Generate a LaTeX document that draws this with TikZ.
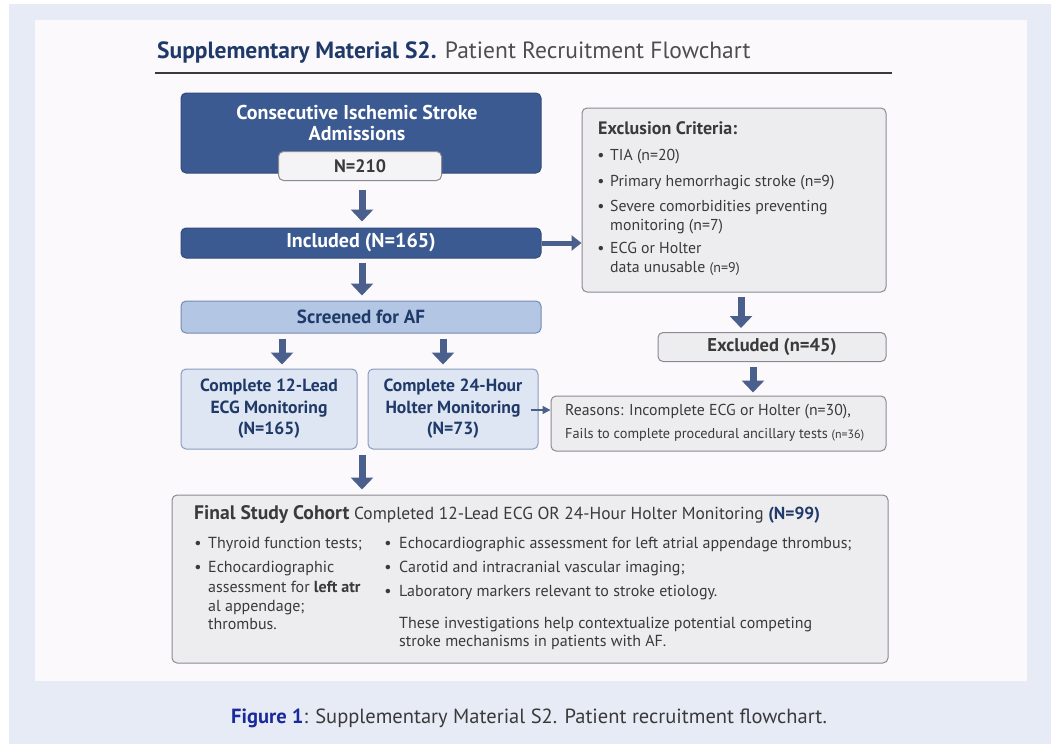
\documentclass[tikz,border=0pt]{standalone}
\usepackage{fontspec}
\setmainfont{PT Sans}
\usetikzlibrary{arrows.meta}
\definecolor{framec}{HTML}{E6EBF5}
\definecolor{panelc}{HTML}{FBF9FC}
\definecolor{navy}{HTML}{1F3A68}
\definecolor{darkboxc}{HTML}{3C5A92}
\definecolor{arrowc}{HTML}{4A5F8C}
\definecolor{lightbluec}{HTML}{B3C7E5}
\definecolor{palebluec}{HTML}{DEE6F3}
\definecolor{grayfill}{HTML}{EDEDF0}
\definecolor{grayline}{HTML}{8A8A90}
\definecolor{txtgray}{HTML}{3A3A3A}
\definecolor{figblue}{HTML}{1A2A9C}
\begin{document}
\begin{tikzpicture}[x=1pt,y=-1pt,
 box/.style={rounded corners=5pt, line width=1pt, inner sep=0pt},
 dbox/.style={box, fill=darkboxc, draw=darkboxc!85!black},
 lbox/.style={box, fill=lightbluec, draw=darkboxc!70},
 pbox/.style={box, fill=palebluec, draw=darkboxc!60},
 gbox/.style={box, fill=grayfill, draw=grayline},
 wtxt/.style={text=white, font=\fontsize{20}{21}\selectfont\bfseries, align=center, inner sep=0pt},
 ntxt/.style={text=navy, font=\fontsize{17.6}{21.5}\selectfont\bfseries, align=center, inner sep=0pt},
 gtxt/.style={text=txtgray, font=\fontsize{15.8}{19}\selectfont, anchor=base west, inner sep=0pt},
 ftxt/.style={text=txtgray, font=\fontsize{16}{19}\selectfont, anchor=base west, inner sep=0pt},
 fat/.style={arrowc, line width=7pt, -{Triangle[width=22pt,length=12pt]}},
 mid/.style={arrowc, line width=5pt, -{Triangle[width=15pt,length=10pt]}},
 slim/.style={arrowc, line width=1.5pt, -{Triangle[width=8pt,length=8pt]}}
]
\useasboundingbox (0,0) rectangle (1051,744);
\fill[framec] (9,4) rectangle (1051,744);
\fill[panelc] (35,20) rectangle (1027,681);

% title
\node[anchor=base west, inner sep=0pt, font=\fontsize{23.5}{26}\selectfont] (title) at (157,58)
  {\textcolor{navy}{\bfseries Supplementary Material S2.} \textcolor{txtgray!90}{Patient Recruitment Flowchart}};
\draw[txtgray, line width=1.6pt] (155,73) -- (892,73);

% left column
\node[dbox, minimum width=360pt, minimum height=80pt] (adm) at (361,133) {};
\node[wtxt] (admt) at (357,123) {Consecutive Ischemic Stroke\\Admissions};
\node[gbox, fill=grayfill!60!white, minimum width=163pt, minimum height=29pt, text=txtgray,
  font=\fontsize{18}{19}\selectfont\bfseries] (n210) at (360,166) {N=210};

\node[dbox, minimum width=360pt, minimum height=30pt, wtxt] (inc) at (361,243) {Included (N=165)};
\node[lbox, minimum width=360pt, minimum height=32pt, ntxt, font=\fontsize{19}{21}\selectfont\bfseries] (scr) at (361,317) {Screened for AF};
\node[pbox, minimum width=176pt, minimum height=80pt, ntxt] (ecg) at (269,409)
  {Complete 12-Lead\\ECG Monitoring\\(N=165)};
\node[pbox, minimum width=170pt, minimum height=80pt, ntxt] (hol) at (453,409)
  {Complete 24-Hour\\Holter Monitoring\\(N=73)};

% right column
\node[gbox, minimum width=304pt, minimum height=184pt] (excl) at (734,200) {};
\node[anchor=base west, inner sep=0pt, text=txtgray, font=\fontsize{18}{19}\selectfont\bfseries] (exclt) at (598,134) {Exclusion Criteria:};
\node[gtxt] (e1) at (610,160) {TIA (n=20)};
\node[gtxt] (e2) at (610,186) {Primary hemorrhagic stroke (n=9)};
\node[gtxt] (e3) at (610,211) {Severe comorbidities preventing};
\node[gtxt] (e3b) at (610,230) {monitoring (n=7)};
\node[gtxt] (e4) at (610,253) {ECG or Holter};
\node[gtxt] (e4b) at (610,272) {data unusable {\fontsize{14}{14}\selectfont(n=9)}};
\foreach \yy [count=\i] in {160,186,211,253}
  \node[gtxt, anchor=base] (eb\i) at (601,\yy) {•};

\node[gbox, minimum width=228pt, minimum height=29pt, text=txtgray,
  font=\fontsize{18.5}{19}\selectfont\bfseries] (exd) at (772,347) {Excluded (n=45)};
\node[gbox, minimum width=335pt, minimum height=55pt] (rsn) at (718.5,423.5) {};
\node[gtxt, font=\fontsize{15.8}{19}\selectfont] (r1) at (565,415) {Reasons: Incomplete ECG or Holter (n=30),};
\node[gtxt, font=\fontsize{14.3}{19}\selectfont] (r2) at (565,438) {Fails to complete procedural ancillary tests {\fontsize{12}{14}\selectfont(n=36)}};

% final cohort
\node[gbox, minimum width=716pt, minimum height=168pt] (fin) at (530,579) {};
\node[anchor=base west, inner sep=0pt, text=txtgray, font=\fontsize{17.4}{19}\selectfont] (fint) at (194,519)
  {{\fontsize{19.6}{19}\selectfont\bfseries Final Study Cohort} Completed 12-Lead ECG OR 24-Hour Holter Monitoring \textcolor{navy}{\bfseries(N=99)}};
\node[ftxt] (l1) at (208,548) {Thyroid function tests;};
\node[ftxt] (l2) at (208,572) {Echocardiographic};
\node[ftxt] (l2b) at (208,592) {assessment for \textbf{left atr}};
\node[ftxt] (l2c) at (208,611) {al appendage;};
\node[ftxt] (l2d) at (208,629) {thrombus.};
\node[ftxt] (r1b) at (399,548) {Echocardiographic assessment for left atrial appendage thrombus;};
\node[ftxt] (r2b) at (399,572) {Carotid and intracranial vascular imaging;};
\node[ftxt] (r3b) at (399,596) {Laboratory markers relevant to stroke etiology.};
\node[ftxt] (p1) at (399,628) {These investigations help contextualize potential competing};
\node[ftxt] (p2) at (399,646) {stroke mechanisms in patients with AF.};
\foreach \xx/\yy [count=\i] in {198/548,198/572,388/548,388/572,388/596}
  \node[ftxt, anchor=base] (fb\i) at (\xx,\yy) {•};

% arrows
\draw[fat] ([xshift=2pt,yshift=-9pt]n210.south) -- ([xshift=1pt,yshift=6pt]inc.north);
\draw[mid] (inc.east) -- (inc.east -| excl.west);
\draw[fat] ([xshift=1pt,yshift=-4pt]inc.south) -- ([xshift=1pt,yshift=5pt]scr.north);
\draw[fat] ([xshift=-79pt,yshift=-5pt]scr.south) -- ([xshift=-79pt,yshift=4pt]scr.south |- ecg.north);
\draw[fat] ([xshift=82pt,yshift=-5pt]scr.south) -- ([xshift=82pt,yshift=4pt]scr.south |- hol.north);
\draw[slim] ([xshift=-8pt,yshift=-1pt]hol.east) -- ([yshift=-1pt]hol.east -| rsn.west);
\coordinate (split) at (362,455);
\draw[fat] (split) -- ([yshift=5pt]split |- fin.north);
\draw[fat] ([xshift=7pt,yshift=-4pt]excl.south) -- ([xshift=7pt,yshift=4pt]excl.south |- exd.north);
\draw[fat] ([xshift=-19pt,yshift=-5pt]exd.south) -- ([xshift=-19pt,yshift=3pt]exd.south |- rsn.north);

% caption
\node[anchor=base west, inner sep=0pt, text=txtgray, font=\fontsize{20.5}{22}\selectfont] (cap) at (231,723)
  {\textcolor{figblue}{\bfseries Figure 1}: Supplementary Material S2. Patient recruitment flowchart.};
\end{tikzpicture}
\end{document}
